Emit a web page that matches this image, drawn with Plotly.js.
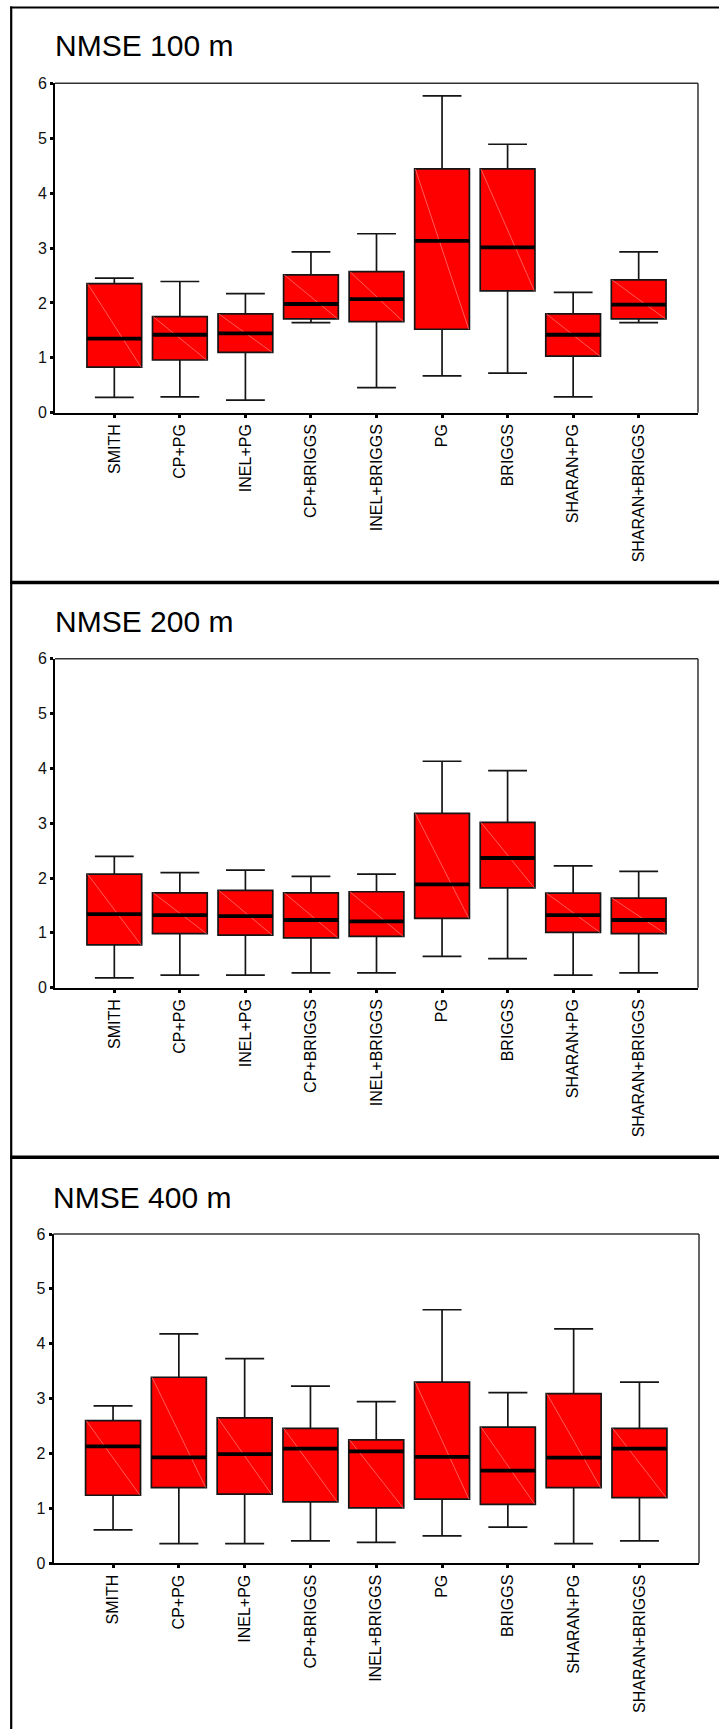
<!DOCTYPE html>
<html><head><meta charset="utf-8">
<script src="https://cdn.plot.ly/plotly-3.0.1.min.js"></script>
<style>html,body{margin:0;padding:0;background:#fff}#chart{width:719px;height:1729px}</style>
</head><body><div id="chart"></div>
<script>
// ---------- data ----------
const categories = ["SMITH","CP+PG","INEL+PG","CP+BRIGGS","INEL+BRIGGS","PG","BRIGGS","SHARAN+PG","SHARAN+BRIGGS"];
const yTicks = [0,1,2,3,4,5,6];
const panelTitles = ["NMSE 100 m","NMSE 200 m","NMSE 400 m"];

// NMSE 100 m
const lower100  = [0.28,0.29,0.23,1.64,0.455,0.67,0.72,0.29,1.64];
const q1_100    = [0.83,0.96,1.10,1.71,1.66,1.52,2.22,1.03,1.71];
const median100 = [1.35,1.42,1.445,1.98,2.07,3.13,3.01,1.42,1.97];
const q3_100    = [2.35,1.75,1.80,2.51,2.57,4.44,4.44,1.80,2.42];
const upper100  = [2.45,2.39,2.17,2.93,3.26,5.77,4.89,2.19,2.93];

// NMSE 200 m
const lower200  = [0.18,0.23,0.23,0.27,0.27,0.57,0.53,0.23,0.27];
const q1_200    = [0.78,0.985,0.96,0.91,0.935,1.265,1.82,1.01,0.985];
const median200 = [1.34,1.325,1.305,1.235,1.21,1.885,2.365,1.325,1.235];
const q3_200    = [2.07,1.73,1.775,1.73,1.75,3.18,3.015,1.725,1.635];
const upper200  = [2.395,2.10,2.145,2.03,2.07,4.13,3.96,2.22,2.12];

// NMSE 400 m
const lower400  = [0.61,0.36,0.36,0.41,0.38,0.50,0.66,0.36,0.41];
const q1_400    = [1.24,1.38,1.26,1.12,1.01,1.17,1.075,1.38,1.195];
const median400 = [2.13,1.93,1.99,2.09,2.04,1.94,1.69,1.925,2.09];
const q3_400    = [2.60,3.39,2.65,2.46,2.25,3.30,2.48,3.09,2.46];
const upper400  = [2.87,4.18,3.73,3.23,2.945,4.62,3.11,4.27,3.30];

// ---------- layout helpers ----------
const W = 719, H = 1729;
const FONT = "Arial, 'Liberation Sans', sans-serif";
const BOXW = 0.835;
const PAD = 0.905;
const px = v => v / W;
const py = v => 1 - v / H;

const panels = [
  {title: panelTitles[0], lo: lower100, q1: q1_100, med: median100, q3: q3_100, hi: upper100,
   top: 83.3, bottom: 412.7, left: 55, right: 698, titleX: 52.5, titleY: 46},
  {title: panelTitles[1], lo: lower200, q1: q1_200, med: median200, q3: q3_200, hi: upper200,
   top: 658.7, bottom: 987.7, left: 55, right: 698, titleX: 52.5, titleY: 621.5},
  {title: panelTitles[2], lo: lower400, q1: q1_400, med: median400, q3: q3_400, hi: upper400,
   top: 1234, bottom: 1563.3, left: 53.5, right: 699, titleX: 51, titleY: 1197}
];

const positions = categories.map((c, i) => i);
const data = [];
const layout = {
  width: W, height: H,
  margin: {l: 0, r: 0, t: 0, b: 0},
  paper_bgcolor: '#fff', plot_bgcolor: '#fff',
  showlegend: false,
  font: {family: FONT, color: '#000'},
  annotations: [],
  shapes: []
};

panels.forEach((p, k) => {
  const sfx = k === 0 ? '' : String(k + 1);
  const xa = 'x' + sfx, ya = 'y' + sfx;

  data.push({
    type: 'box', xaxis: xa, yaxis: ya,
    x: positions, q1: p.q1, median: p.med, q3: p.q3,
    lowerfence: p.lo, upperfence: p.hi,
    width: BOXW, whiskerwidth: 0.71,
    fillcolor: '#ff0000',
    line: {color: '#151515', width: 1.7},
    boxpoints: false, hoverinfo: 'skip'
  });

  // faint diagonal inside each box (top-left to bottom-right)
  const dx = [], dy = [];
  positions.forEach((pos, i) => {
    dx.push(pos - BOXW / 2 + 0.01, pos + BOXW / 2 - 0.01, null);
    dy.push(p.q3[i], p.q1[i], null);
  });
  data.push({type: 'scatter', mode: 'lines', xaxis: xa, yaxis: ya, x: dx, y: dy,
    line: {color: 'rgba(255,150,150,0.85)', width: 0.7}, hoverinfo: 'skip'});

  // thick median bars
  const mx = [], my = [];
  positions.forEach((pos, i) => {
    mx.push(pos - BOXW / 2, pos + BOXW / 2, null);
    my.push(p.med[i], p.med[i], null);
  });
  data.push({type: 'scatter', mode: 'lines', xaxis: xa, yaxis: ya, x: mx, y: my,
    line: {color: '#000', width: 3.8}, hoverinfo: 'skip'});

  layout['xaxis' + sfx] = {
    domain: [px(p.left), px(p.right)], anchor: ya,
    range: [-PAD, categories.length - 1 + PAD],
    tickmode: 'array', tickvals: positions, ticktext: categories,
    tickangle: -90, ticks: 'outside', ticklen: 3, tickwidth: 3, tickcolor: '#000',
    showline: true, linecolor: '#000', linewidth: 2,
    showgrid: false, zeroline: false, fixedrange: true,
    tickfont: {family: FONT, size: 16, color: '#000'}
  };
  layout['yaxis' + sfx] = {
    domain: [py(p.bottom), py(p.top)], anchor: xa,
    range: [0, 6], tickmode: 'array', tickvals: yTicks,
    ticks: 'outside', ticklen: 3, tickwidth: 3, tickcolor: '#000',
    showline: true, linecolor: '#000', linewidth: 2,
    showgrid: false, zeroline: false, fixedrange: true,
    tickfont: {family: FONT, size: 16, color: '#111'}
  };

  // top and right frame of the plot area
  layout.shapes.push(
    {type: 'line', xref: xa + ' domain', yref: ya + ' domain', x0: 0, x1: 1, y0: 1, y1: 1,
     line: {color: '#333', width: 1.5}},
    {type: 'line', xref: xa + ' domain', yref: ya + ' domain', x0: 1, x1: 1, y0: 0, y1: 1,
     line: {color: '#333', width: 1.5}}
  );

  layout.annotations.push({
    xref: 'paper', yref: 'paper', x: px(p.titleX), y: py(p.titleY),
    xanchor: 'left', yanchor: 'middle', showarrow: false,
    text: p.title, font: {family: FONT, size: 30, color: '#000'}
  });
});

// panel frames
layout.shapes.push(
  {type: 'line', xref: 'paper', yref: 'paper', x0: px(11.2), x1: px(11.2), y0: py(6.5), y1: 0,
   line: {color: '#000', width: 2.2}},
  {type: 'line', xref: 'paper', yref: 'paper', x0: px(10), x1: 1, y0: py(7.5), y1: py(7.5),
   line: {color: '#000', width: 2.2}},
  {type: 'line', xref: 'paper', yref: 'paper', x0: px(10), x1: 1, y0: py(582.5), y1: py(582.5),
   line: {color: '#000', width: 3.6}},
  {type: 'line', xref: 'paper', yref: 'paper', x0: px(10), x1: 1, y0: py(1157.2), y1: py(1157.2),
   line: {color: '#000', width: 3.6}}
);

Plotly.newPlot('chart', data, layout, {displayModeBar: false, staticPlot: true});
</script>
</body></html>
